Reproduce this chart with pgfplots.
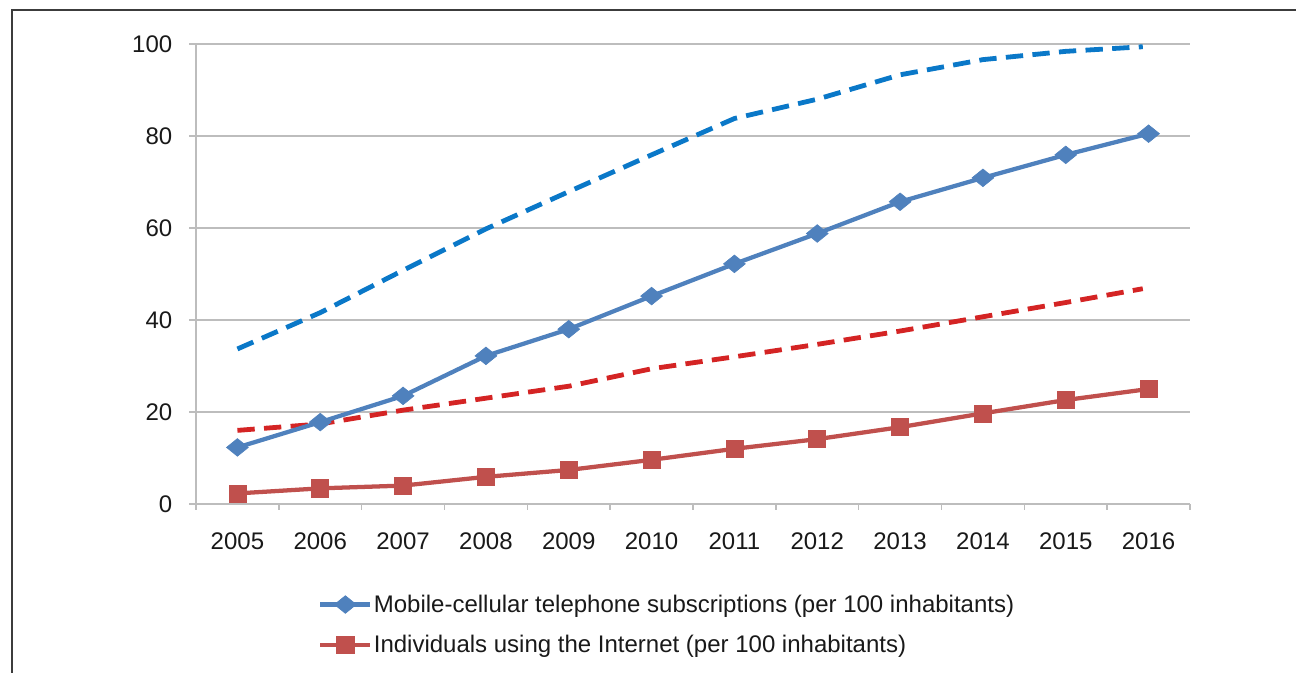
\documentclass[border=0pt]{standalone}
\usepackage{pgfplots}
\pgfplotsset{compat=1.18}
\usepackage{fontspec}
\setmainfont{Liberation Sans}

\definecolor{mobblue}{HTML}{4F81BD}
\definecolor{netred}{HTML}{C0504D}
\definecolor{dashblue}{HTML}{0A78C8}
\definecolor{dashred}{HTML}{D42424}
\definecolor{gridgray}{HTML}{BDBDBD}
\definecolor{framegray}{HTML}{3C3C3C}

\begin{document}
\begin{tikzpicture}
\useasboundingbox (0pt,0pt) rectangle (972pt,504.75pt);
% outer frame (top and left edges visible)
\draw[framegray, line width=1.5pt] (9pt,-4pt) -- (9pt,497.25pt) -- (976pt,497.25pt);
\begin{axis}[
  at={(147pt,126.75pt)}, anchor=south west,
  scale only axis, width=745.5pt, height=345pt,
  xmin=-0.5, xmax=11.5, ymin=0, ymax=100,
  axis x line*=bottom, axis y line*=left,
  axis line style={gridgray, line width=1.5pt},
  xtick={0,...,11},
  xticklabels={2005,2006,2007,2008,2009,2010,2011,2012,2013,2014,2015,2016},
  major x tick style={draw=none},
  minor xtick={-0.5,0.5,...,11.5},
  minor tick length=4.5pt,
  minor x tick style={gridgray, line width=1.2pt},
  ytick={0,20,...,100},
  major tick length=5.25pt,
  tick align=outside,
  y tick style={gridgray, line width=1.5pt},
  ymajorgrids, grid style={gridgray, line width=1.5pt},
  tick label style={font=\fontsize{18}{20}\selectfont, text=black!90},
  /pgf/number format/assume math mode=true,
  yticklabel style={xshift=-9pt},
  xticklabel style={yshift=-13pt},
  legend style={at={(0.1227,-0.194)}, anchor=north west, draw=none,
    fill=none, font=\fontsize{18}{20}\selectfont, text=black!90,
    row sep=14pt, inner sep=0pt,
    nodes={inner sep=1pt}},
  legend cell align=left,
  legend image code/.code={%
    \draw[mark repeat=2, mark phase=2, #1]
      plot coordinates {(0pt,0pt) (18.75pt,0pt) (37.5pt,0pt)};},
  clip=false,
]
% dashed series (no legend entry)
\addplot[dashblue, line width=3.6pt, dash pattern=on 13pt off 7pt, forget plot]
  coordinates {(0,33.7) (1,41.6) (2,50.8) (3,59.8) (4,67.9) (5,75.9)
  (6,83.8) (7,88.0) (8,93.3) (9,96.6) (10,98.4) (10.93,99.4)};
\addplot[dashred, line width=3.6pt, dash pattern=on 13pt off 7pt, forget plot]
  coordinates {(0,16.0) (1,17.4) (2,20.4) (3,23.0) (4,25.6) (5,29.4)
  (6,32.0) (7,34.7) (8,37.6) (9,40.7) (10,43.8) (10.93,46.8)};
% solid series
\addplot[mobblue, line width=3.2pt, mark=diamond*,
  mark options={solid, line width=0.5pt, mark size=6.6pt, xscale=1.65}]
  coordinates {(0,12.3) (1,17.8) (2,23.5) (3,32.2) (4,38.0) (5,45.2)
  (6,52.2) (7,58.8) (8,65.7) (9,70.9) (10,75.9) (11,80.5)};
\addlegendentry{Mobile-cellular telephone subscriptions (per 100 inhabitants)}
\addplot[netred, line width=3.2pt, mark=square*,
  mark options={solid, line width=0.5pt, mark size=6.4pt}]
  coordinates {(0,2.3) (1,3.4) (2,4.0) (3,5.9) (4,7.4) (5,9.6)
  (6,12.0) (7,14.1) (8,16.7) (9,19.7) (10,22.6) (11,25.0)};
\addlegendentry{Individuals using the Internet (per 100 inhabitants)}
\end{axis}
\end{tikzpicture}
\end{document}
